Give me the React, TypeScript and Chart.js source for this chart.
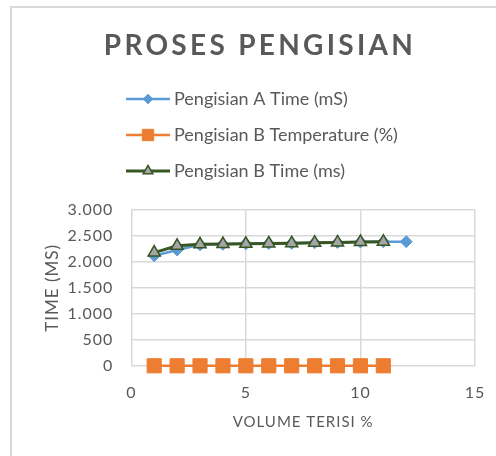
import { useEffect, useRef } from 'react';
import { Chart, registerables } from 'chart.js';
import { drawPoint } from 'chart.js/helpers';

Chart.register(...registerables);

const chartTitle = 'PROSES PENGISIAN';
const seriesNames = ['Pengisian A Time (mS)', 'Pengisian B Temperature (%)', 'Pengisian B Time (ms)'];
const volume = [1, 2, 3, 4, 5, 6, 7, 8, 9, 10, 11, 12];
const timeA = [2120, 2230, 2330, 2340, 2350, 2355, 2360, 2370, 2375, 2385, 2390, 2390];
const tempB = [0, 0, 0, 0, 0, 0, 0, 0, 0, 0, 0];
const timeB = [2180, 2310, 2340, 2345, 2350, 2355, 2360, 2370, 2375, 2385, 2390];
const xTickValues = [0, 5, 10, 15];
const yTickValues = [0, 500, 1000, 1500, 2000, 2500, 3000];
const xAxisTitle = 'VOLUME TERISI %';
const yAxisTitle = 'TIME (MS)';

const FONT = 'Lato, "Open Sans", sans-serif';
const TEXT = '#595959';
const GRID = '#d9d9d9';

const pts = (vals: number[]) => vals.map((v, i) => ({ x: volume[i], y: v }));

const decoPlugin = {
  id: 'deco',
  beforeDraw(chart: any) {
    const ctx = chart.ctx;
    ctx.save();
    ctx.strokeStyle = GRID;
    ctx.lineWidth = 2;
    ctx.beginPath();
    ctx.moveTo(11, 460);
    ctx.lineTo(11, 7);
    ctx.lineTo(500, 7);
    ctx.stroke();
    ctx.restore();
    (ctx as any).letterSpacing = '1px';
  },
  beforeDatasetsDraw(chart: any) {
    (chart.ctx as any).letterSpacing = '0px';
  },
  afterDraw(chart: any) {
    const ctx = chart.ctx;
    ctx.save();
    // title
    ctx.fillStyle = TEXT;
    ctx.font = `bold 28px ${FONT}`;
    (ctx as any).letterSpacing = '3.3px';
    ctx.textAlign = 'center';
    ctx.textBaseline = 'middle';
    ctx.fillText(chartTitle, 260, 46);
    (ctx as any).letterSpacing = '0px';
    // legend
    chart.data.datasets.forEach((ds: any, i: number) => {
      const y = 99 + i * 36;
      ctx.strokeStyle = ds.borderColor;
      ctx.lineWidth = ds.borderWidth;
      ctx.beginPath();
      ctx.moveTo(126, y);
      ctx.lineTo(170, y);
      ctx.stroke();
      ctx.fillStyle = ds.pointBackgroundColor;
      ctx.strokeStyle = ds.pointBorderColor;
      ctx.lineWidth = ds.pointBorderWidth;
      drawPoint(ctx, { pointStyle: ds.pointStyle, radius: ds.pointRadius * 0.8, rotation: 0, borderWidth: ds.pointBorderWidth }, 148, y);
      ctx.fillStyle = TEXT;
      ctx.font = `18px ${FONT}`;
      ctx.textAlign = 'left';
      ctx.textBaseline = 'middle';
      ctx.fillText(ds.label, 174, y);
    });
    ctx.restore();
  },
};

export default function App() {
  const ref = useRef<HTMLCanvasElement>(null);
  useEffect(() => {
    if (!ref.current) return;
    const chart = new Chart(ref.current, {
      type: 'line',
      data: {
        datasets: [
          {
            label: seriesNames[0],
            data: pts(timeA),
            borderColor: '#5b9bd5',
            backgroundColor: '#5b9bd5',
            borderWidth: 2.5,
            pointStyle: 'rectRot',
            pointRadius: 6,
            pointBackgroundColor: '#5b9bd5',
            pointBorderColor: '#5b9bd5',
            pointBorderWidth: 1,
            order: 2,
            clip: false,
          },
          {
            label: seriesNames[1],
            data: pts(tempB),
            borderColor: '#ed7d31',
            backgroundColor: '#ed7d31',
            borderWidth: 2.5,
            pointStyle: 'rect',
            pointRadius: 10,
            pointBackgroundColor: '#ed7d31',
            pointBorderColor: '#ed7d31',
            pointBorderWidth: 1,
            order: 1,
            clip: false,
          },
          {
            label: seriesNames[2],
            data: pts(timeB),
            borderColor: '#375623',
            backgroundColor: '#375623',
            borderWidth: 3,
            pointStyle: 'triangle',
            pointRadius: 7,
            pointBackgroundColor: '#a5a5a5',
            pointBorderColor: '#375623',
            pointBorderWidth: 1.5,
            order: 0,
            clip: false,
          },
        ],
      },
      options: {
        animation: false,
        responsive: false,
        maintainAspectRatio: false,
        layout: { padding: { top: 210, left: 25, right: 21, bottom: 25 } },
        plugins: {
          legend: { display: false },
          title: { display: false },
          tooltip: { enabled: false },
        },
        scales: {
          x: {
            type: 'linear',
            min: 0,
            max: 15,
            afterBuildTicks: (axis: any) => {
              axis.ticks = xTickValues.map((v) => ({ value: v }));
            },
            grid: { color: GRID, lineWidth: 1.5, drawTicks: true, tickLength: 15, tickColor: 'rgba(0,0,0,0)' },
            border: { display: false },
            ticks: { color: TEXT, padding: 2, font: { family: FONT, size: 16 } },
            title: {
              display: true,
              text: xAxisTitle,
              color: TEXT,
              padding: { top: 9, bottom: 0 },
              font: { family: FONT, size: 15 },
            },
          },
          y: {
            type: 'linear',
            min: 0,
            max: 3000,
            afterBuildTicks: (axis: any) => {
              axis.ticks = yTickValues.map((v) => ({ value: v }));
            },
            grid: { color: GRID, lineWidth: 1.5, drawTicks: false },
            border: { display: false },
            ticks: {
              color: TEXT,
              padding: 18,
              font: { family: FONT, size: 16 },
              callback: (v: any) => String(v).replace(/\B(?=(\d{3})+(?!\d))/g, '.'),
            },
            title: {
              display: true,
              text: yAxisTitle,
              color: TEXT,
              padding: { top: 17, bottom: -8 },
              font: { family: FONT, size: 17 },
            },
          },
        },
      },
      plugins: [decoPlugin],
    });
    return () => chart.destroy();
  }, []);
  return (
    <div style={{ position: 'fixed', left: 0, top: 0, width: 496, height: 456, background: '#fff' }}>
      <canvas ref={ref} width={496} height={456} style={{ width: 496, height: 456, display: 'block' }} />
    </div>
  );
}
